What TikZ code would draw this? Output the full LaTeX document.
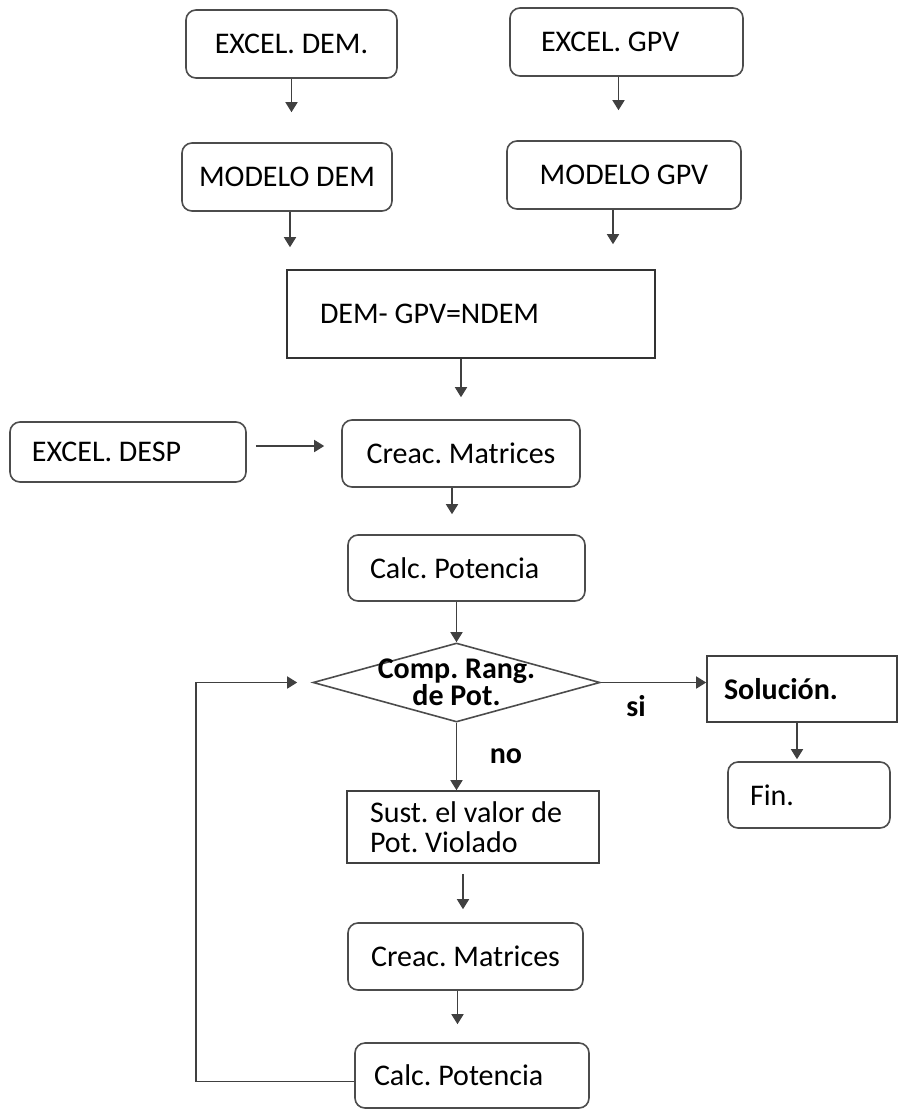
\documentclass[tikz,border=0pt]{standalone}
\usepackage{fontspec}
\setmainfont{Carlito}
\usepackage{tikz}
\usetikzlibrary{positioning,arrows.meta,shapes.geometric}
\frenchspacing

\begin{document}
\begin{tikzpicture}[x=0.5pt, y=-0.5pt,
    font=\fontsize{15}{15}\selectfont,
    every node/.style={text=black},
    rbox/.style={draw=black!70, line width=0.8pt, rounded corners=5pt, minimum height=34pt, inner xsep=11pt, align=center},
    sbox/.style={draw=black!75, line width=0.8pt, minimum height=34pt, inner xsep=11pt, align=flush left},
    decision/.style={draw=black!70, line width=0.8pt, diamond, minimum width=143.5pt, minimum height=39.5pt, inner sep=0pt},
    arr/.style={draw=black!75, line width=0.8pt, -{Triangle[length=5pt,width=6pt]}}]

    \useasboundingbox (0,0) rectangle (898,1110);

    % 
    \node[rbox, minimum width=105.5pt] (exdem) at (291.5,44) {EXCEL. DEM.};
    \node[rbox, text width=85.5pt, align=flush left, inner xsep=15.5pt] (exgpv) at (626.5,42) {EXCEL. GPV};
    \node[rbox, minimum width=105pt, inner xsep=4pt] (moddem) at (287,177) {MODELO DEM};
    \node[rbox, minimum width=117pt] (modgpv) at (624,175) {MODELO GPV};
    \node[sbox, text width=151pt, inner xsep=16.5pt, minimum height=44pt, draw=black!80] (ndem) at (471,314) {DEM- GPV=NDEM};

    % 
    \node[rbox, text width=96pt, align=flush left, minimum height=30pt] (exdesp) at (128,452) {EXCEL. DESP};
    \node[rbox, minimum width=119pt, minimum height=33.5pt] (creac1) at (461,453.5) {Creac. Matrices};
    \node[rbox, text width=96.5pt, align=flush left, minimum height=33pt] (calc1) at (466.5,568) {Calc. Potencia};

    % 
    \node[decision] (comp) at (456.5,682.5) {};
    \node[font=\fontsize{15}{13.5}\selectfont\bfseries, align=center] (comptxt) at (comp) {Comp. Rang.\\de Pot.};
    \node[sbox, text width=78pt, inner xsep=8.5pt, minimum height=33pt, font=\fontsize{15}{15}\selectfont\bfseries] (sol) at (802,689) {Solución.};
    \node[rbox, text width=59pt, align=flush left, minimum height=33pt] (fin) at (809,795) {Fin.};
    \node[sbox, text width=103pt, inner xsep=11.5pt, minimum height=36pt] (sust) at (473,827) {Sust. el valor de\\Pot. Violado};
    \node[rbox, minimum width=117.5pt, minimum height=33.5pt] (creac2) at (465.5,956.5) {Creac. Matrices};
    \node[rbox, text width=98pt, align=flush left, inner xsep=9.5pt, minimum height=32.5pt] (calc2) at (472,1075.5) {Calc. Potencia};

    % 
    \node[font=\fontsize{15}{15}\selectfont\bfseries] (si) at (636,706) {si};
    \node[font=\fontsize{15}{15}\selectfont\bfseries] (no) at (506,756) {no};

    % 
    \draw[arr, shorten >=15pt] (exdem.south) -- (exdem.south |- moddem.north);
    \draw[arr, shorten >=15pt] ([xshift=-4pt]exgpv.south) -- ([xshift=-4pt]exgpv.south |- modgpv.north);
    \draw[arr, shorten >=11pt] ([xshift=1.5pt]moddem.south) -- ([xshift=1.5pt]moddem.south |- ndem.north);
    \draw[arr, shorten >=12.5pt] ([xshift=-5.5pt]modgpv.south) -- ([xshift=-5.5pt]modgpv.south |- ndem.north);
    \draw[arr, shorten >=11pt] (creac1.north |- ndem.south) -- (creac1.north);
    \draw[arr, shorten <=4.5pt, shorten >=8.5pt] ([yshift=3pt]exdesp.east) -- ([yshift=3pt]exdesp.east -| creac1.west);
    \draw[arr, shorten >=10pt] ([xshift=-4.5pt]creac1.south) -- ([xshift=-4.5pt]creac1.south |- calc1.north);
    \draw[arr] (comp.north |- calc1.south) -- (comp.north);
    \draw[arr] (comp.east) -- (comp.east -| sol.west);
    \draw[arr, shorten >=1pt] ([xshift=-2.5pt]sol.south) -- ([xshift=-2.5pt]sol.south |- fin.north);
    \draw[arr] (comp.south) -- (comp.south |- sust.north);
    \draw[arr, shorten <=5pt, shorten >=6.5pt] ([xshift=-5pt]sust.south) -- ([xshift=-5pt]sust.south |- creac2.north);
    \draw[arr, shorten >=9pt] ([xshift=-4pt]creac2.south) -- ([xshift=-4pt]creac2.south |- calc2.north);
    \draw[arr, shorten >=7.5pt] ([yshift=-3pt]calc2.west) -- ++(-158,0) |- (comp.west);

\end{tikzpicture}
\end{document}
